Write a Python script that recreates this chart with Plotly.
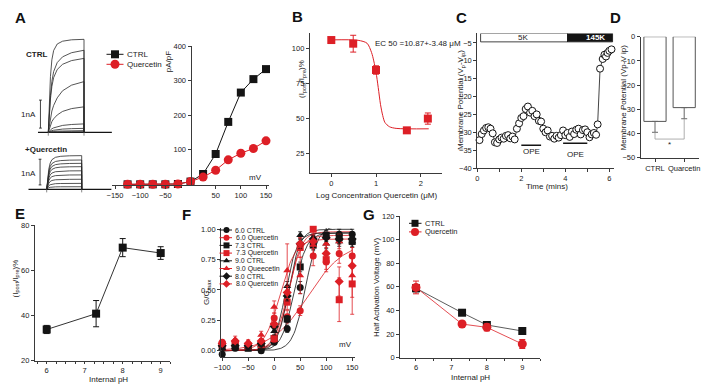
import plotly.graph_objects as go
import numpy as np

FONT = "Liberation Sans, Arial, Helvetica, sans-serif"
BLACK = "#141414"
RED = "#dd1f26"
AX = "#3a3a3a"
W, H = 718, 385

# ---------------- DATA ----------------
# A: whole-cell current traces (nA vs ms)
trace_time_ms = [0, 3, 6, 10, 15, 25, 40, 65, 100]
profile_fast = [0, 0.35, 0.6, 0.78, 0.88, 0.95, 0.98, 0.995, 1.0]
profile_mid = [0, 0.25, 0.45, 0.62, 0.74, 0.85, 0.92, 0.97, 1.0]
profile_slow = [0, 0.15, 0.28, 0.42, 0.53, 0.68, 0.82, 0.93, 1.0]
ctrl_trace_amp = [3.32, 2.93, 2.64, 1.81, 0.91, 0.30, 0.14, 0.06, 0.02]
ctrl_trace_kind = ["fast", "mid", "mid", "slow", "slow", "slow", "slow", "slow", "slow"]
querc_trace_amp = [1.31, 1.14, 1.01, 0.88, 0.72, 0.56, 0.39, 0.23, 0.10]
querc_trace_kind = ["fast"] * 9

# A: I-V relation
iv_voltage = [-125, -100, -75, -50, -25, 0, 25, 50, 75, 100, 125, 150]
iv_ctrl = [-1, -1, -1, -1, 0, 7, 29, 87, 180, 265, 304, 333]
iv_querc = [-1, -1, -1, -1, 0, 7, 20, 40, 70, 89, 103, 125]

# B: dose response
b_logc = [0, 0.49, 1.0, 1.69, 2.16]
b_ratio = [105.9, 103.3, 84.5, 41.4, 49.8]
b_err = [1.5, 6.0, 3.0, 1.0, 4.0]
b_fit_logc = [0, 0.6, 0.8, 0.9, 0.95, 1.0, 1.05, 1.1, 1.15, 1.2, 1.3, 1.45, 2.18]
b_fit_ratio = [106, 105.7, 103.6, 97, 91, 83, 72, 60, 52, 47, 44, 42.8, 42.5]

# C: membrane potential recording
c_time = [0.1, 0.2, 0.3, 0.4, 0.5, 0.6, 0.7, 0.8, 0.9, 1.0, 1.1, 1.2, 1.3, 1.4, 1.5,
          1.6, 1.7, 1.8, 1.9, 2.0, 2.1, 2.2, 2.3, 2.4, 2.5, 2.6, 2.7, 2.8, 2.9, 3.0,
          3.1, 3.2, 3.3, 3.4, 3.5, 3.6, 3.7, 3.8, 3.9, 4.0, 4.1, 4.2, 4.3, 4.4, 4.5,
          4.6, 4.7, 4.8, 4.9, 5.0, 5.1, 5.2, 5.3, 5.4, 5.47, 5.58, 5.7, 5.78, 5.85,
          5.92, 6.0, 6.1]
c_vm = [-32.2, -30.5, -29.5, -28.8, -28.6, -29.0, -30.3, -32.8, -33.0, -32.0, -31.5,
        -31.8, -31.0, -30.8, -31.7, -31.2, -32.0, -29.0, -27.5, -26.0, -25.5, -23.5,
        -22.8, -24.5, -24.0, -25.5, -25.0, -26.8, -27.0, -29.0, -30.0, -29.5, -31.2,
        -31.0, -31.8, -31.0, -31.5, -30.8, -29.5, -30.8, -30.2, -31.3, -29.8, -30.5,
        -29.3, -29.0, -30.6, -29.4, -29.2, -30.0, -31.4, -30.6, -30.2, -30.7, -27.8,
        -12.2, -9.5, -8.3, -8.8, -7.8, -7.2, -6.8]
c_solution = ["5K", "145K"]
c_solution_start = [0.15, 4.1]
c_solution_end = [4.1, 6.15]
c_ope_start = [2.0, 3.9]
c_ope_end = [2.9, 5.0]
c_ope_level = [-33.6, -33.1]

# D: bar chart
d_groups = ["CTRL", "Quarcetin"]
d_mean = [-35.0, -29.3]
d_err = [4.5, 4.6]

# E
e_ph = [6, 7.3, 8, 9]
e_ratio = [33.8, 40.8, 70.0, 67.6]
e_err = [1.8, 5.8, 4.0, 2.8]

# F: normalized conductance
f_voltage = [-100, -75, -50, -25, 0, 25, 50, 75, 100, 125, 150]
f_names = ["6.0 CTRL", "6.0 Quercetin", "7.3 CTRL", "7.3 Quercetin",
           "9.0 CTRL", "9.0 Queecetin", "8.0 CTRL", "8.0 Quercetin"]
f_values = [
    [-0.03, 0.02, 0.03, 0.00, 0.07, 0.18, 0.52, 0.90, 1.02, 0.96, 0.96],
    [0.07, 0.07, 0.05, 0.07, 0.27, 0.28, 0.33, 0.78, 0.73, 0.80, 0.78],
    [0.03, 0.03, 0.02, 0.03, 0.10, 0.26, 0.69, 0.87, 0.95, 0.93, 0.90],
    [0.05, 0.06, 0.04, 0.05, 0.10, 0.40, 0.85, 1.00, 0.75, 0.42, 0.55],
    [0.02, 0.03, 0.03, 0.05, 0.16, 0.53, 0.95, 0.91, 0.88, 0.90, 0.90],
    [0.05, 0.09, 0.07, 0.13, 0.36, 0.66, 0.62, 0.87, 0.88, 0.90, 0.62],
    [0.04, 0.04, 0.04, 0.06, 0.20, 0.45, 0.88, 0.92, 0.93, 0.92, 0.92],
    [0.06, 0.08, 0.06, 0.08, 0.22, 0.48, 0.88, 0.90, 0.80, 0.57, 0.70],
]
f_errors = [
    [0.02, 0.02, 0.02, 0.02, 0.02, 0.03, 0.05, 0.04, 0.03, 0.04, 0.04],
    [0.02, 0.02, 0.02, 0.02, 0.04, 0.05, 0.04, 0.08, 0.06, 0.08, 0.10],
    [0.02, 0.02, 0.02, 0.02, 0.02, 0.03, 0.04, 0.04, 0.03, 0.04, 0.04],
    [0.02, 0.02, 0.02, 0.02, 0.03, 0.06, 0.08, 0.05, 0.10, 0.18, 0.25],
    [0.02, 0.02, 0.02, 0.02, 0.03, 0.04, 0.03, 0.04, 0.04, 0.04, 0.05],
    [0.02, 0.03, 0.02, 0.03, 0.05, 0.22, 0.15, 0.07, 0.06, 0.06, 0.18],
    [0.02, 0.02, 0.02, 0.02, 0.03, 0.04, 0.04, 0.04, 0.03, 0.04, 0.04],
    [0.02, 0.02, 0.02, 0.02, 0.03, 0.05, 0.05, 0.06, 0.08, 0.12, 0.15],
]
f_colors = [BLACK, RED, BLACK, RED, BLACK, RED, BLACK, RED]
f_symbols = ["circle", "circle", "square", "square", "triangle-up", "triangle-up", "diamond", "diamond"]
f_fit_vhalf = [60, 65, 38, 28, 22, 11, 28, 26]
f_fit_k = [12, 35, 12, 12, 11, 15, 11, 13]
f_fit_max = [1.03, 0.9, 0.97, 0.98, 0.97, 0.92, 1.0, 0.95]

# G
g_ph = [6, 7.3, 8, 9]
g_ctrl = [58.8, 38.1, 27.7, 22.6]
g_ctrl_err = [3.0, 1.5, 1.5, 1.0]
g_querc = [59.5, 28.5, 25.7, 11.6]
g_querc_err = [5.4, 2.5, 3.0, 3.8]


# ---------------- helpers ----------------
def span(r, v1, p1, v2, p2):
    s = (p2 - p1) / (v2 - v1)
    return p1 + (r[0] - v1) * s, p1 + (r[1] - v1) * s


def xdom(r, v1, p1, v2, p2):
    a, b = span(r, v1, p1, v2, p2)
    return [min(a, b) / W, max(a, b) / W]


def ydom(r, v1, p1, v2, p2):
    a, b = span(r, v1, p1, v2, p2)
    return [1 - max(a, b) / H, 1 - min(a, b) / H]


TICKFONT = dict(family=FONT, size=7.5, color="#222")


def axstyle(**kw):
    d = dict(showline=True, linecolor=AX, linewidth=1, ticks="outside", ticklen=3,
             tickwidth=1, tickcolor=AX, showgrid=False, zeroline=False, tickangle=0,
             tickfont=TICKFONT, fixedrange=True)
    d.update(kw)
    return d


def hidden(**kw):
    d = dict(visible=False, showgrid=False, zeroline=False, fixedrange=True)
    d.update(kw)
    return d


annotations = []


def ann(text, x, y, size=8, bold=False, angle=0, xanchor="center", yanchor="middle", color="#222"):
    if bold:
        text = "<b>" + text + "</b>"
    annotations.append(dict(text=text, x=x / W, y=1 - y / H, xref="paper", yref="paper",
                            showarrow=False, textangle=angle, xanchor=xanchor, yanchor=yanchor,
                            font=dict(family=FONT, size=size, color=color)))


fig = go.Figure()
profiles = {"fast": profile_fast, "mid": profile_mid, "slow": profile_slow}

# ---- A: current traces ----
for ax_id, amps, kinds in (("8", ctrl_trace_amp, ctrl_trace_kind), ("9", querc_trace_amp, querc_trace_kind)):
    xa, ya = "x" + ax_id, "y" + ax_id
    rng = [-29, 178] if ax_id == "8" else [-52, 185]
    fig.add_trace(go.Scatter(x=rng, y=[0, 0], mode="lines", line=dict(color=BLACK, width=1.2),
                             xaxis=xa, yaxis=ya, hoverinfo="skip"))
    for amp, kind in zip(amps, kinds):
        prof = profiles[kind]
        xs = list(trace_time_ms) + [trace_time_ms[-1]]
        ys = [amp * p for p in prof] + [0]
        fig.add_trace(go.Scatter(x=xs, y=ys, mode="lines", line=dict(color="#2a2a2a", width=0.8),
                                 xaxis=xa, yaxis=ya, hoverinfo="skip"))
    for t in (trace_time_ms[0], trace_time_ms[-1]):
        fig.add_trace(go.Scatter(x=[t, t], y=[0, -0.12], mode="lines",
                                 line=dict(color="#555", width=0.7), xaxis=xa, yaxis=ya, hoverinfo="skip"))
    sx = -22 if ax_id == "8" else -19
    b0 = 0.15 if ax_id == "8" else 0.17
    fig.add_trace(go.Scatter(x=[sx - 4, sx + 4, None, sx, sx, None, sx - 4, sx + 4],
                             y=[b0, b0, None, b0, b0 + 1, None, b0 + 1, b0 + 1], mode="lines",
                             line=dict(color=BLACK, width=0.8), xaxis=xa, yaxis=ya, hoverinfo="skip"))

# ---- A: I-V ----
fig.add_trace(go.Scatter(x=iv_voltage, y=iv_ctrl, mode="lines+markers", cliponaxis=False,
                         line=dict(color=BLACK, width=1),
                         marker=dict(symbol="square", size=8, color=BLACK), xaxis="x", yaxis="y"))
fig.add_trace(go.Scatter(x=iv_voltage, y=iv_querc, mode="lines+markers", cliponaxis=False,
                         line=dict(color=RED, width=1),
                         marker=dict(symbol="circle", size=9, color=RED), xaxis="x", yaxis="y"))

# ---- B ----
fig.add_trace(go.Scatter(x=b_fit_logc, y=b_fit_ratio, mode="lines",
                         line=dict(color=RED, width=1, shape="spline", smoothing=0.8),
                         xaxis="x2", yaxis="y2", cliponaxis=False))
fig.add_trace(go.Scatter(x=b_logc, y=b_ratio, mode="markers", cliponaxis=False,
                         marker=dict(symbol="square", size=8, color=RED),
                         error_y=dict(type="data", array=b_err, color=RED, thickness=1, width=3),
                         xaxis="x2", yaxis="y2"))

# ---- C ----
for lab, s, e in zip(c_solution, c_solution_start, c_solution_end):
    dark = lab == "145K"
    fig.add_shape(type="rect", xref="x3", yref="y3", x0=s, x1=e, y0=-4.7, y1=-2.35,
                  line=dict(color=BLACK, width=0.8), fillcolor=BLACK if dark else "white")
for s, e, lv in zip(c_ope_start, c_ope_end, c_ope_level):
    fig.add_trace(go.Scatter(x=[s, e], y=[lv, lv], mode="lines", line=dict(color=BLACK, width=1.5),
                             xaxis="x3", yaxis="y3", hoverinfo="skip"))
fig.add_trace(go.Scatter(x=c_time, y=c_vm, mode="lines+markers", cliponaxis=False,
                         line=dict(color=BLACK, width=0.8),
                         marker=dict(symbol="circle", size=7, color="white", line=dict(color=BLACK, width=1)),
                         xaxis="x3", yaxis="y3"))

# ---- D ----
fig.add_trace(go.Bar(x=[0, 1], y=d_mean, width=0.76, marker=dict(color="white", line=dict(color="#555", width=1)),
                     error_y=dict(type="data", symmetric=False, array=[0, 0], arrayminus=d_err,
                                  color="#666", thickness=1, width=3),
                     xaxis="x4", yaxis="y4"))
low = [m - e for m, e in zip(d_mean, d_err)]
bracket_level = min(low) - 2.8
fig.add_trace(go.Scatter(x=[0, 0, 1, 1], y=[low[0], bracket_level, bracket_level, low[1]], mode="lines",
                         line=dict(color="#999", width=0.8), xaxis="x4", yaxis="y4", cliponaxis=False))

# ---- E ----
fig.add_trace(go.Scatter(x=e_ph, y=e_ratio, mode="lines+markers", cliponaxis=False,
                         line=dict(color="#333", width=1),
                         marker=dict(symbol="square", size=8, color=BLACK),
                         error_y=dict(type="data", array=e_err, color=BLACK, thickness=1, width=3),
                         xaxis="x5", yaxis="y5"))

# ---- F ----
vgrid = np.linspace(-100, 150, 126)
for vh, k, a, col in zip(f_fit_vhalf, f_fit_k, f_fit_max, f_colors):
    fig.add_trace(go.Scatter(x=vgrid, y=a / (1 + np.exp((vh - vgrid) / k)), mode="lines",
                             line=dict(color=col, width=0.8), xaxis="x6", yaxis="y6", hoverinfo="skip"))
for vals, errs, col, sym in zip(f_values, f_errors, f_colors, f_symbols):
    fig.add_trace(go.Scatter(x=f_voltage, y=vals, mode="markers", cliponaxis=False,
                             marker=dict(symbol=sym, size=7, color=col),
                             error_y=dict(type="data", array=errs, color=col, thickness=0.8, width=2),
                             xaxis="x6", yaxis="y6"))

# ---- G ----
fig.add_trace(go.Scatter(x=g_ph, y=g_ctrl, mode="lines+markers", cliponaxis=False,
                         line=dict(color="#333", width=0.8),
                         marker=dict(symbol="square", size=8, color=BLACK),
                         error_y=dict(type="data", array=g_ctrl_err, color=BLACK, thickness=1, width=3),
                         xaxis="x7", yaxis="y7"))
fig.add_trace(go.Scatter(x=g_ph, y=g_querc, mode="lines+markers", cliponaxis=False,
                         line=dict(color=RED, width=0.8),
                         marker=dict(symbol="circle", size=9, color=RED),
                         error_y=dict(type="data", array=g_querc_err, color=RED, thickness=1, width=3),
                         xaxis="x7", yaxis="y7"))


# ---- legends (overlay pixel axes) ----
def legend_item(xm, y, x0, x1, color, sym, size, label, fs=8):
    fig.add_trace(go.Scatter(x=[x0, x1], y=[y, y], mode="lines", line=dict(color=color, width=1),
                             xaxis="x10", yaxis="y10", hoverinfo="skip"))
    fig.add_trace(go.Scatter(x=[xm], y=[y], mode="markers", marker=dict(symbol=sym, size=size, color=color),
                             xaxis="x10", yaxis="y10", hoverinfo="skip"))
    ann(label, x1 + 1.5, y, size=fs, xanchor="left")


legend_item(115, 54.3, 106.5, 123.5, BLACK, "square", 8, "CTRL")
legend_item(115, 64.3, 106.5, 123.5, RED, "circle", 9, "Quercetin")
for i, (nm, col, sym) in enumerate(zip(f_names, f_colors, f_symbols)):
    legend_item(226.5, 230 + i * 7.7, 219.5, 232, col, sym, 6, nm, fs=7)
legend_item(415, 223.3, 409, 421.5, BLACK, "square", 7, "CTRL", fs=7.5)
legend_item(415, 231.9, 409, 421.5, RED, "circle", 8, "Quercetin", fs=7.5)

# ---------------- LAYOUT ----------------
layout = dict(width=W, height=H, margin=dict(l=0, r=0, t=0, b=0, autoexpand=False), showlegend=False,
              paper_bgcolor="white", plot_bgcolor="rgba(0,0,0,0)",
              font=dict(family=FONT, size=8, color="#222"))

# A I-V
layout["xaxis"] = axstyle(range=[-155, 155], domain=xdom([-155, 155], -150, 115, 150, 266), anchor="y",
                          tickvals=[-150, -100, -50, 50, 100, 150])
layout["yaxis"] = axstyle(range=[-3, 400], domain=ydom([-3, 400], 0, 184, 400, 46), anchor="free",
                          position=190.5 / W, tickvals=[100, 200, 300, 400])
# B
layout["xaxis2"] = axstyle(range=[-0.48, 2.47], domain=xdom([-0.48, 2.47], 0, 331.3, 1, 376), anchor="y2",
                           tickvals=[0, 1, 2])
layout["yaxis2"] = axstyle(range=[11, 111], domain=ydom([11, 111], 100, 48.3, 25, 153.3), anchor="x2",
                           tickvals=[25, 50, 75, 100])
# C
layout["xaxis3"] = axstyle(range=[0, 6.2], domain=xdom([0, 6.2], 0, 477.3, 2, 521.3), anchor="y3",
                           tickvals=[0, 2, 4, 6],
                           minor=dict(tickmode="array", tickvals=[1, 3, 5], ticks="outside", ticklen=3, tickcolor=AX))
layout["yaxis3"] = axstyle(range=[-40, -2.35], domain=ydom([-40, -2.35], -40, 168, -2.5, 34), anchor="x3",
                           tickvals=[-40, -35, -30, -25, -20, -15, -10, -5])
# D
layout["xaxis4"] = axstyle(range=[-0.49, 1.5], domain=xdom([-0.49, 1.5], 0, 655, 1, 684.2), anchor="y4",
                           tickvals=[0, 1], ticktext=d_groups)
layout["yaxis4"] = axstyle(range=[-50, 0], domain=ydom([-50, 0], 0, 36.7, -50, 157.7), anchor="x4",
                           tickvals=[-50, -40, -30, -20, -10, 0])
# E
layout["xaxis5"] = axstyle(range=[5.69, 9.25], domain=xdom([5.69, 9.25], 6, 46.7, 9, 160.7), anchor="y5",
                           tickvals=[6, 7, 8, 9], ticklen=2.5,
                           minor=dict(tickmode="array",
                                      tickvals=[5.75, 6.25, 6.5, 6.75, 7.25, 7.5, 7.75, 8.25, 8.5, 8.75, 9.25],
                                      ticks="outside", ticklen=2, tickcolor=AX))
layout["yaxis5"] = axstyle(range=[20, 80], domain=ydom([20, 80], 20, 360.7, 80, 225), anchor="x5",
                           tickvals=[20, 40, 60, 80])
# F
layout["xaxis6"] = axstyle(range=[-102, 156], domain=xdom([-102, 156], 0, 274.2, 50, 300.2), anchor="y6",
                           tickvals=[-100, -50, 0, 50, 100, 150])
layout["yaxis6"] = axstyle(range=[-0.05, 1.01], domain=ydom([-0.05, 1.01], 0, 350.7, 1, 229.3), anchor="x6",
                           tickvals=[0, 0.25, 0.5, 0.75, 1.0], ticktext=["0.00", "0.25", "0.50", "0.75", "1.00"])
# G
layout["xaxis7"] = axstyle(range=[5.55, 9.5], domain=xdom([5.55, 9.5], 6, 416, 9, 522.3), anchor="y7",
                           tickvals=[6, 7, 8, 9], ticklen=2.5,
                           minor=dict(tickmode="array", tickvals=[6.5, 7.5, 8.5, 9.5],
                                      ticks="outside", ticklen=2, tickcolor=AX))
layout["yaxis7"] = axstyle(range=[0, 120], domain=ydom([0, 120], 0, 357.7, 120, 216), anchor="x7",
                           tickvals=[0, 20, 40, 60, 80, 100, 120])
# A traces (hidden)
layout["xaxis8"] = hidden(range=[-30, 180], domain=xdom([-30, 180], 0, 48.3, 100, 84), anchor="y8")
layout["yaxis8"] = hidden(range=[-0.3, 3.6], domain=ydom([-0.3, 3.6], 0, 132.3, 1, 104.3), anchor="x8")
layout["xaxis9"] = hidden(range=[-55, 186], domain=xdom([-55, 186], 0, 46.7, 100, 81.7), anchor="y9")
layout["yaxis9"] = hidden(range=[-0.25, 1.4], domain=ydom([-0.25, 1.4], 0, 189.3, 1, 163.6), anchor="x9")
# overlay pixel axes
layout["xaxis10"] = hidden(range=[0, W], domain=[0, 1], anchor="y10")
layout["yaxis10"] = hidden(range=[H, 0], domain=[0, 1], anchor="x10")

# ---------------- TEXT ----------------
for lab, x, y in (("A", 20.7, 17), ("B", 297, 16), ("C", 461, 17), ("D", 615, 17),
                  ("E", 19.5, 213.5), ("F", 186.7, 214), ("G", 369, 214)):
    ann(lab, x, y, size=15, bold=True, color="#111")

ann("CTRL", 36, 54, size=8, bold=True)
ann("+Quercetin", 46, 149, size=8, bold=True)
ann("1nA", 37.5, 114, size=8, xanchor="right")
ann("1nA", 37.5, 173, size=8, xanchor="right")
ann("pA/pF", 168.3, 62, size=8, angle=-90)
ann("mV", 255, 177, size=8)

ann("EC 50 =10.87+-3.48 μM", 373, 43, size=8, xanchor="left")
ann("(I<sub>post</sub>/I<sub>pre</sub>)%", 302, 79, size=8, angle=-90)
ann("Log Concentration Quercetin (μM)", 376, 196, size=8)

ann("Membrane Potential (V<sub>p</sub>-V<sub>ip</sub>)", 461, 100, size=8, angle=-90)
ann("Time (mins)", 547, 186.5, size=8)
ann("5K", 523.3, 37.5, size=8)
ann("145K", 595, 37.5, size=8, bold=True, color="white")
ann("OPE", 531, 151.7, size=8)
ann("OPE", 575.5, 154.3, size=8)

ann("Membrane Potential (Vp-V ip)", 623.5, 98, size=8, angle=-90)
ann("*", 669.3, 144, size=8)

ann("(I<sub>post</sub>/I<sub>pre</sub>)%", 15.5, 279, size=8, angle=-90)
ann("Internal pH", 108, 379, size=8)

ann("G/G<sub>max</sub>", 207, 292, size=8, angle=-90)
ann("mV", 345.7, 344, size=8)

ann("Half Activation Voltage (mV)", 376, 288, size=8, angle=-90)
ann("Internal pH", 470, 377.5, size=8)

layout["annotations"] = annotations
fig.update_layout(**layout)
fig.write_html("out.html", config={"displayModeBar": False},
               post_script="document.body.style.margin='0px';document.body.style.padding='0px';")
